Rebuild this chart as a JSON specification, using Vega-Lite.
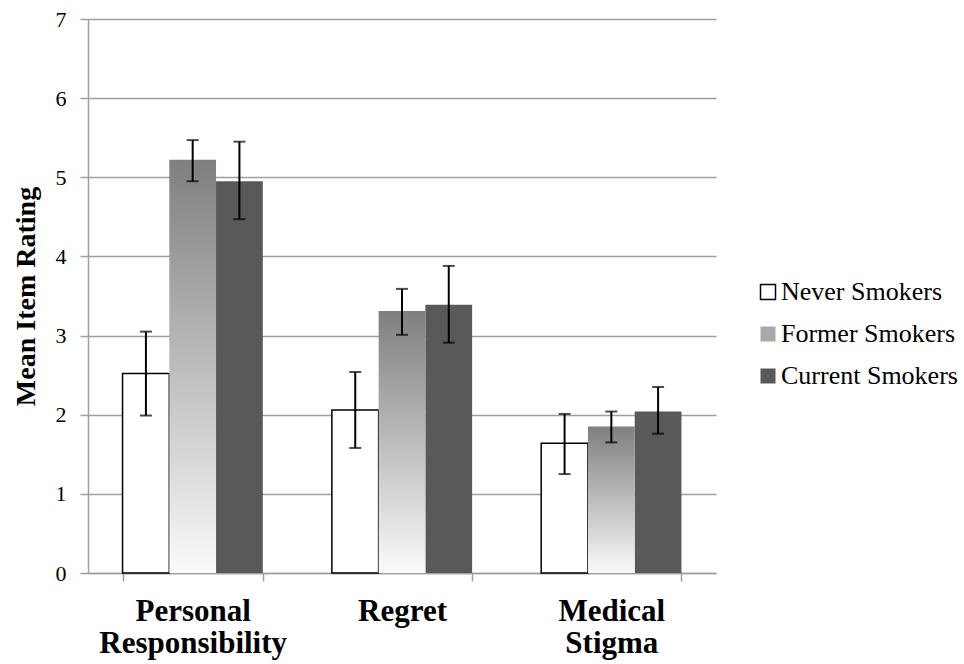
{
  "$schema": "https://vega.github.io/schema/vega-lite/v6.json",
  "width": 628,
  "height": 554,
  "autosize": "none",
  "padding": {"left": 88, "top": 19, "right": 248, "bottom": 91},
  "config": {
    "view": {"stroke": null},
    "font": "'Liberation Serif', 'Times New Roman', serif",
    "axisY": {
      "labelFont": "'Liberation Serif', 'Times New Roman', serif",
      "labelFontSize": 22,
      "labelColor": "black",
      "labelPadding": 14
    },
    "legend": {
      "labelFont": "'Liberation Serif', 'Times New Roman', serif",
      "labelFontSize": 26,
      "labelColor": "black",
      "labelLimit": 300,
      "labelOffset": 0,
      "symbolType": "square",
      "symbolSize": 225,
      "symbolStrokeWidth": 1.5,
      "rowPadding": 16,
      "padding": 0
    }
  },
  "data": {
    "values": [
      {"measure": "Personal Responsibility", "group": "Never Smokers", "mean": 2.52, "lo": 1.99, "hi": 3.05},
      {"measure": "Personal Responsibility", "group": "Former Smokers", "mean": 5.22, "lo": 4.95, "hi": 5.47},
      {"measure": "Personal Responsibility", "group": "Current Smokers", "mean": 4.95, "lo": 4.47, "hi": 5.45},
      {"measure": "Regret", "group": "Never Smokers", "mean": 2.06, "lo": 1.58, "hi": 2.54},
      {"measure": "Regret", "group": "Former Smokers", "mean": 3.31, "lo": 3.01, "hi": 3.59},
      {"measure": "Regret", "group": "Current Smokers", "mean": 3.39, "lo": 2.91, "hi": 3.88},
      {"measure": "Medical Stigma", "group": "Never Smokers", "mean": 1.64, "lo": 1.25, "hi": 2.01},
      {"measure": "Medical Stigma", "group": "Former Smokers", "mean": 1.85, "lo": 1.65, "hi": 2.04},
      {"measure": "Medical Stigma", "group": "Current Smokers", "mean": 2.04, "lo": 1.76, "hi": 2.35}
    ]
  },
  "encoding": {
    "x": {
      "field": "measure",
      "type": "nominal",
      "sort": ["Personal Responsibility", "Regret", "Medical Stigma"],
      "scale": {"paddingInner": 0.33, "paddingOuter": 0.165},
      "axis": {
        "title": null,
        "labelAngle": 0,
        "labelExpr": "split(datum.label, ' ')",
        "labelFont": "'Liberation Serif', 'Times New Roman', serif",
        "labelFontSize": 31,
        "labelFontWeight": "bold",
        "labelColor": "black",
        "labelLineHeight": 32,
        "labelPadding": 15,
        "labelLimit": 400,
        "tickBand": "extent",
        "tickSize": 8,
        "tickColor": "#9e9e9e",
        "tickWidth": 1.5,
        "domainColor": "#9e9e9e",
        "domainWidth": 1.5,
        "grid": false
      }
    },
    "xOffset": {
      "field": "group",
      "type": "nominal",
      "sort": ["Never Smokers", "Former Smokers", "Current Smokers"],
      "scale": {"paddingInner": 0, "paddingOuter": 0}
    }
  },
  "layer": [
    {
      "transform": [{"filter": "datum.group !== 'Former Smokers'"}],
      "mark": {"type": "bar", "strokeWidth": 1.5},
      "encoding": {
        "y": {
          "field": "mean",
          "type": "quantitative",
          "scale": {"domain": [0, 7], "nice": false},
          "axis": {
            "values": [0, 1, 2, 3, 4, 5, 6, 7],
            "format": "d",
            "title": "Mean Item Rating",
            "titleFont": "'Liberation Serif', 'Times New Roman', serif",
            "titleFontSize": 28,
            "titleFontWeight": "bold",
            "titleColor": "black",
            "titlePadding": 15,
            "labelFont": "'Liberation Serif', 'Times New Roman', serif",
            "labelFontSize": 22,
            "labelColor": "black",
            "labelPadding": 14,
            "tickSize": 8,
            "tickColor": "#9e9e9e",
            "tickWidth": 1.5,
            "domainColor": "#9e9e9e",
            "domainWidth": 1.5,
            "grid": true,
            "gridColor": "#9e9e9e",
            "gridWidth": 1.5
          }
        },
        "fill": {
          "field": "group",
          "type": "nominal",
          "sort": ["Never Smokers", "Former Smokers", "Current Smokers"],
          "scale": {
            "domain": ["Never Smokers", "Former Smokers", "Current Smokers"],
            "range": ["#ffffff", "#a8a8a8", "#595959"]
          },
          "legend": {
            "title": null,
            "orient": "none",
            "legendX": 667,
            "legendY": 260
          }
        },
        "stroke": {
          "field": "group",
          "type": "nominal",
          "sort": ["Never Smokers", "Former Smokers", "Current Smokers"],
          "scale": {
            "domain": ["Never Smokers", "Former Smokers", "Current Smokers"],
            "range": ["#000000", "transparent", "transparent"]
          },
          "legend": {
            "title": null,
            "orient": "none",
            "legendX": 667,
            "legendY": 260
          }
        }
      }
    },
    {
      "transform": [{"filter": "datum.group === 'Former Smokers'"}],
      "mark": {
        "type": "bar",
        "fill": {
          "gradient": "linear",
          "x1": 0, "y1": 0, "x2": 0, "y2": 1,
          "stops": [
            {"offset": 0, "color": "#7f7f7f"},
            {"offset": 1, "color": "#fafafa"}
          ]
        }
      },
      "encoding": {
        "y": {"field": "mean", "type": "quantitative"}
      }
    },
    {
      "mark": {"type": "rule", "color": "black", "strokeWidth": 2},
      "encoding": {
        "y": {"field": "lo", "type": "quantitative"},
        "y2": {"field": "hi"}
      }
    },
    {
      "mark": {"type": "tick", "color": "black", "thickness": 2, "size": 12},
      "encoding": {
        "y": {"field": "lo", "type": "quantitative"}
      }
    },
    {
      "mark": {"type": "tick", "color": "black", "thickness": 2, "size": 12},
      "encoding": {
        "y": {"field": "hi", "type": "quantitative"}
      }
    }
  ]
}
